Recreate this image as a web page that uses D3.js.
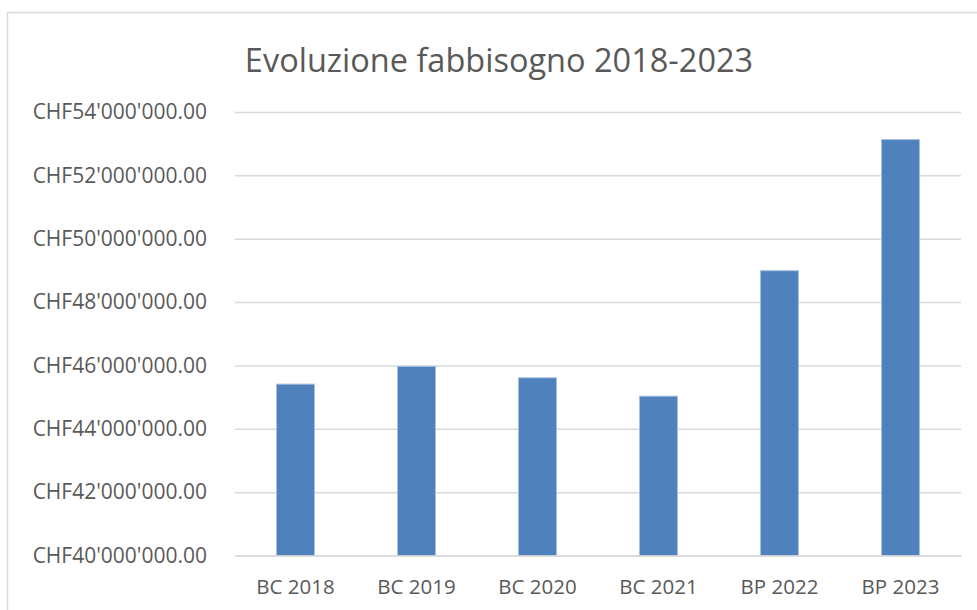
<!DOCTYPE html>
<html>
<head>
<meta charset="utf-8">
<script src="https://cdn.jsdelivr.net/npm/d3@7"></script>
<style>
  body { margin: 0; background: #fff; }
  svg { display: block; }
</style>
</head>
<body>
<script>
// data
const categories = ["BC 2018", "BC 2019", "BC 2020", "BC 2021", "BP 2022", "BP 2023"];
const values = [45410000, 45970000, 45610000, 45030000, 48990000, 53130000];
const yTicks = [40000000, 42000000, 44000000, 46000000, 48000000, 50000000, 52000000, 54000000];
const title = "Evoluzione fabbisogno 2018-2023";

const width = 977;
const height = 610;
const margin = { top: 112, right: 16, bottom: 54.5, left: 235 };

const locale = d3.formatLocale({
  decimal: ".",
  thousands: "'",
  grouping: [3],
  currency: ["CHF", ""]
});
const fmt = locale.format("$,.2f");

const svg = d3.select("body").append("svg")
    .attr("width", width)
    .attr("height", height)
    .style("font-family", "'Open Sans', sans-serif");

// chart border (only left and top visible)
svg.append("rect")
    .attr("x", 7.5)
    .attr("y", 12.5)
    .attr("width", 1000)
    .attr("height", 700)
    .attr("fill", "#fff")
    .attr("stroke", "#d9d9d9")
    .attr("stroke-width", 1.5);

const x = d3.scaleBand()
    .domain(categories)
    .range([margin.left, width - margin.right])
    .paddingInner(0.686)
    .paddingOuter(0.343);

const y = d3.scaleLinear()
    .domain([40000000, 54000000])
    .range([height - margin.bottom, margin.top]);

// gridlines + labels
const yAxis = svg.append("g")
    .attr("transform", `translate(${margin.left},0)`)
    .call(d3.axisLeft(y)
        .tickValues(yTicks)
        .tickFormat(fmt)
        .tickSize(-(width - margin.right - margin.left))
        .tickPadding(28));

yAxis.select(".domain").remove();
yAxis.selectAll(".tick line")
    .attr("stroke", "#d9d9d9")
    .attr("stroke-width", 1.5);
yAxis.selectAll(".tick text")
    .attr("fill", "#595959")
    .style("font-size", "21px")
    .style("font-family", "'Open Sans', sans-serif");

// bars
svg.append("g")
  .selectAll("rect")
  .data(values)
  .join("rect")
    .attr("x", (d, i) => x(categories[i]))
    .attr("y", d => y(d))
    .attr("width", x.bandwidth())
    .attr("height", d => y(40000000) - y(d))
    .attr("fill", "#4f81bd")
    .attr("stroke", "#a7c0e0")
    .attr("stroke-width", 1);

// x axis labels
const xAxis = svg.append("g")
    .attr("transform", `translate(0,${height - margin.bottom})`)
    .call(d3.axisBottom(x).tickSize(0).tickPadding(24));

xAxis.select(".domain")
    .attr("stroke", "#d9d9d9")
    .attr("stroke-width", 1.5);
xAxis.selectAll(".tick text")
    .attr("fill", "#595959")
    .style("font-size", "20.5px")
    .style("font-family", "'Open Sans', sans-serif");

// title
svg.append("text")
    .attr("x", 499)
    .attr("y", 72)
    .attr("text-anchor", "middle")
    .attr("fill", "#595959")
    .style("font-size", "32.5px")
    .text(title);
</script>
</body>
</html>
